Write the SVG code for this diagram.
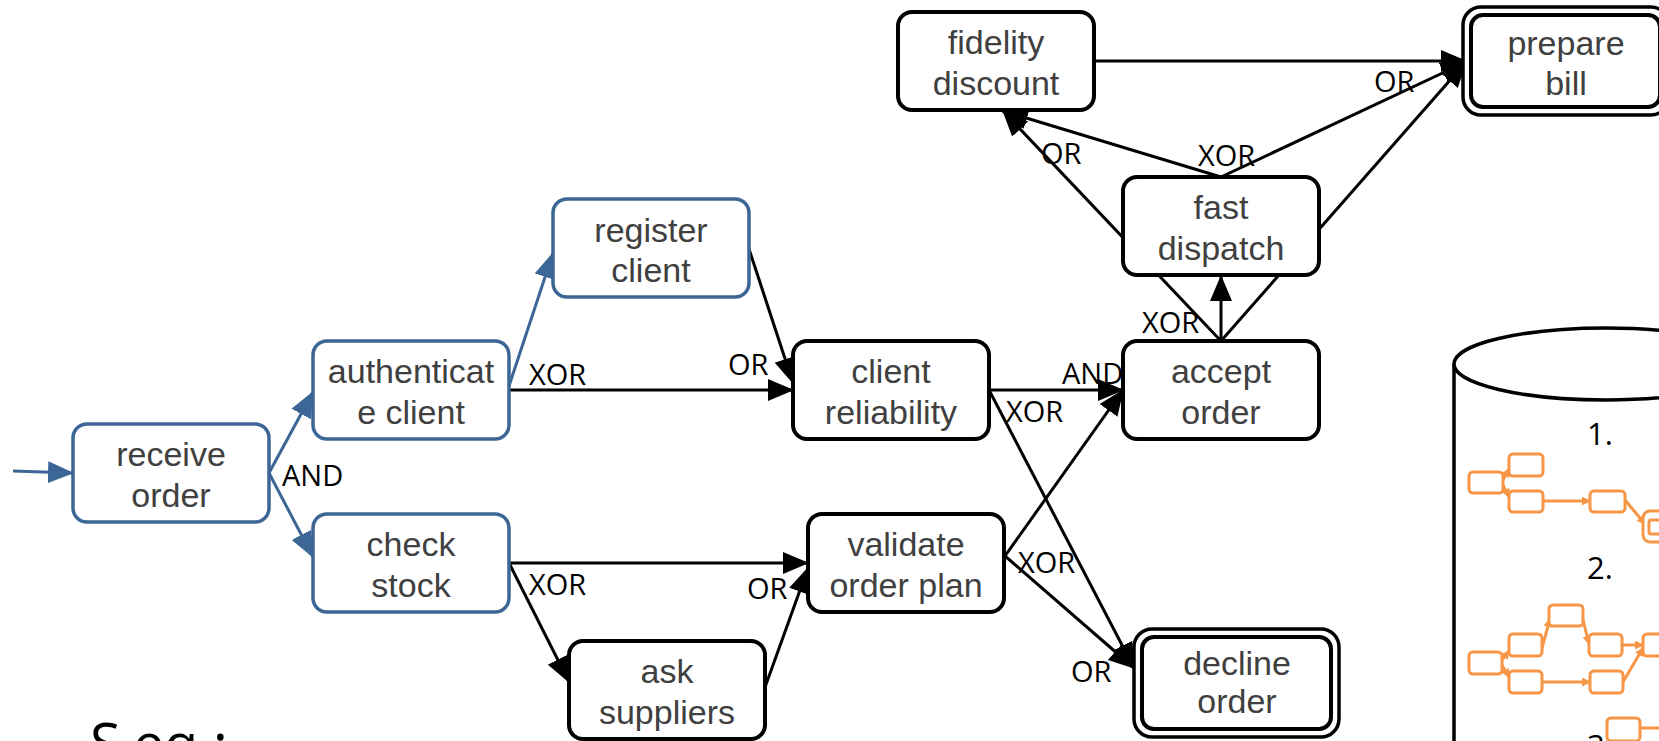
<svg xmlns="http://www.w3.org/2000/svg" width="1659" height="741" viewBox="0 0 1659 741">
<defs>
<style>
.n rect{fill:#fff;stroke:#000;stroke-width:4}
.b rect{fill:#fff;stroke:#3B6696;stroke-width:3.5}
.d .o{stroke-width:3.5}
.t{font-family:"Liberation Sans",Arial,sans-serif;font-size:34px;fill:#404040;text-anchor:middle}
.l{font-family:"Open Sans","Noto Sans",sans-serif;font-size:29px;fill:#000}
.ck{fill:none;stroke:#000;stroke-width:3;marker-end:url(#ak)}
.cb{fill:none;stroke:#3B6696;stroke-width:3;marker-end:url(#ab)}
.m rect{fill:#fff;stroke:#F79646;stroke-width:3}
.mc{fill:none;stroke:#F79646;stroke-width:3;marker-end:url(#ao)}
</style>
<marker id="ak" markerUnits="userSpaceOnUse" markerWidth="26" markerHeight="22" viewBox="0 0 26 22" refX="25" refY="11" orient="auto"><path d="M0,0 L26,11 L0,22 Z" fill="#000"/></marker>
<marker id="ab" markerUnits="userSpaceOnUse" markerWidth="26" markerHeight="22" viewBox="0 0 26 22" refX="25" refY="11" orient="auto"><path d="M0,0 L26,11 L0,22 Z" fill="#3B6696"/></marker>
<marker id="ao" markerUnits="userSpaceOnUse" markerWidth="9" markerHeight="9" viewBox="0 0 9 9" refX="8" refY="4.5" orient="auto"><path d="M0,0 L9,4.5 L0,9 Z" fill="#F79646"/></marker>
</defs>
<rect width="1659" height="741" fill="#fff"/>

<g id="connectors">
<path class="cb" d="M13,471 L73,473"/>
<path class="cb" d="M269,473 L313,392"/>
<path class="cb" d="M269,473 L313,557"/>
<path class="cb" d="M509,386 L553,253"/>
<path class="ck" d="M509,390 L793,390"/>
<path class="ck" d="M749,249 L793,383"/>
<path class="ck" d="M989,390 L1123,390"/>
<path class="ck" d="M989,390 L1134,668"/>
<path class="ck" d="M509,563 L808,563"/>
<path class="ck" d="M509,563 L569,682"/>
<path class="ck" d="M764,690 L808,568"/>
<path class="ck" d="M1005,556 L1123,390"/>
<path class="ck" d="M1005,556 L1134,668"/>
<path class="ck" d="M1221,341 L1221,276"/>
<path class="ck" d="M1221,341 L1003,111"/>
<path class="ck" d="M1221,341 L1466,62"/>
<path class="ck" d="M1221,177 L1003,111"/>
<path class="ck" d="M1221,177 L1466,62"/>
<path class="ck" d="M1095,61 L1466,61"/>
</g>

<g id="labels">
<text class="l" x="282" y="486">AND</text>
<text class="l" x="529" y="385">XOR</text>
<text class="l" x="728" y="375">OR</text>
<text class="l" x="529" y="595">XOR</text>
<text class="l" x="747" y="599">OR</text>
<text class="l" x="1062" y="384">AND</text>
<text class="l" x="1006" y="422">XOR</text>
<text class="l" x="1018" y="573">XOR</text>
<text class="l" x="1071" y="682">OR</text>
<text class="l" x="1142" y="333">XOR</text>
<text class="l" x="1041" y="164">OR</text>
<text class="l" x="1198" y="166">XOR</text>
<text class="l" x="1374" y="92">OR</text>
</g>

<g id="receive-order" class="b"><rect x="73" y="424" width="196" height="98" rx="14"/><text class="t" x="171" y="466">receive</text><text class="t" x="171" y="507">order</text></g>
<g id="authenticate-client" class="b"><rect x="313" y="341" width="196" height="98" rx="14"/><text class="t" x="411" y="383">authenticat</text><text class="t" x="411" y="424">e client</text></g>
<g id="check-stock" class="b"><rect x="313" y="514" width="196" height="98" rx="14"/><text class="t" x="411" y="556">check</text><text class="t" x="411" y="597">stock</text></g>
<g id="register-client" class="b"><rect x="553" y="199" width="196" height="98" rx="14"/><text class="t" x="651" y="242">register</text><text class="t" x="651" y="282">client</text></g>
<g id="client-reliability" class="n"><rect x="793" y="341" width="196" height="98" rx="14"/><text class="t" x="891" y="383">client</text><text class="t" x="891" y="424">reliability</text></g>
<g id="validate-order-plan" class="n"><rect x="808" y="514" width="196" height="98" rx="14"/><text class="t" x="906" y="556">validate</text><text class="t" x="906" y="597">order plan</text></g>
<g id="ask-suppliers" class="n"><rect x="569" y="641" width="196" height="98" rx="14"/><text class="t" x="667" y="683">ask</text><text class="t" x="667" y="724">suppliers</text></g>
<g id="accept-order" class="n"><rect x="1123" y="341" width="196" height="98" rx="14"/><text class="t" x="1221" y="383">accept</text><text class="t" x="1221" y="424">order</text></g>
<g id="fast-dispatch" class="n"><rect x="1123" y="177" width="196" height="98" rx="14"/><text class="t" x="1221" y="219">fast</text><text class="t" x="1221" y="260">dispatch</text></g>
<g id="fidelity-discount" class="n"><rect x="898" y="12" width="196" height="98" rx="14"/><text class="t" x="996" y="54">fidelity</text><text class="t" x="996" y="95">discount</text></g>
<g id="prepare-bill" class="n d"><rect class="o" x="1463" y="7" width="206" height="108" rx="18"/><rect x="1471" y="15" width="189" height="92" rx="12"/><text class="t" x="1566" y="55">prepare</text><text class="t" x="1566" y="95">bill</text></g>
<g id="decline-order" class="n d"><rect class="o" x="1134" y="629" width="205" height="108" rx="18"/><rect x="1142" y="637" width="189" height="92" rx="12"/><text class="t" x="1237" y="675">decline</text><text class="t" x="1237" y="713">order</text></g>

<g id="repository">
<path d="M1454,364 L1454,760" fill="none" stroke="#000" stroke-width="3.5"/>
<ellipse cx="1606" cy="364" rx="152" ry="36" fill="#fff" stroke="#000" stroke-width="3.5"/>
<text class="l" x="1587" y="445" style="font-size:31px">1.</text>
<text class="l" x="1587" y="579" style="font-size:31px">2.</text>
<text class="l" x="1587" y="757" style="font-size:31px">3.</text>
<g class="m">
<path class="mc" d="M1503,480 L1509,469"/>
<path class="mc" d="M1503,485 L1509,497"/>
<path class="mc" d="M1543,501 L1590,501"/>
<path class="mc" d="M1625,500 L1645,524"/>
<rect x="1469" y="472" width="34" height="21" rx="4"/>
<rect x="1509" y="454" width="34" height="22" rx="4"/>
<rect x="1509" y="491" width="34" height="21" rx="4"/>
<rect x="1590" y="491" width="35" height="21" rx="4"/>
<rect x="1643" y="511" width="40" height="31" rx="7"/>
<rect x="1649" y="520" width="30" height="14" rx="2"/>

<path class="mc" d="M1502,660 L1509,651"/>
<path class="mc" d="M1502,665 L1509,677"/>
<path class="mc" d="M1542,648 L1550,619"/>
<path class="mc" d="M1583,620 L1589,644"/>
<path class="mc" d="M1622,645 L1643,645"/>
<path class="mc" d="M1542,682 L1590,682"/>
<path class="mc" d="M1623,682 L1643,648"/>
<rect x="1469" y="652" width="33" height="22" rx="4"/>
<rect x="1509" y="634" width="33" height="22" rx="4"/>
<rect x="1509" y="671" width="33" height="22" rx="4"/>
<rect x="1549" y="605" width="34" height="21" rx="4"/>
<rect x="1589" y="634" width="33" height="22" rx="4"/>
<rect x="1590" y="671" width="33" height="22" rx="4"/>
<rect x="1643" y="634" width="33" height="22" rx="4"/>
<rect x="1607" y="718" width="33" height="23" rx="4"/>
<path d="M1640,728 L1665,728" fill="none" stroke="#F79646" stroke-width="3"/>
</g>
</g>

<text x="90 133 164 195 213" y="764" style="font-family:'Open Sans','Noto Sans',sans-serif;font-size:56px;fill:#000">Seq :</text>
</svg>
